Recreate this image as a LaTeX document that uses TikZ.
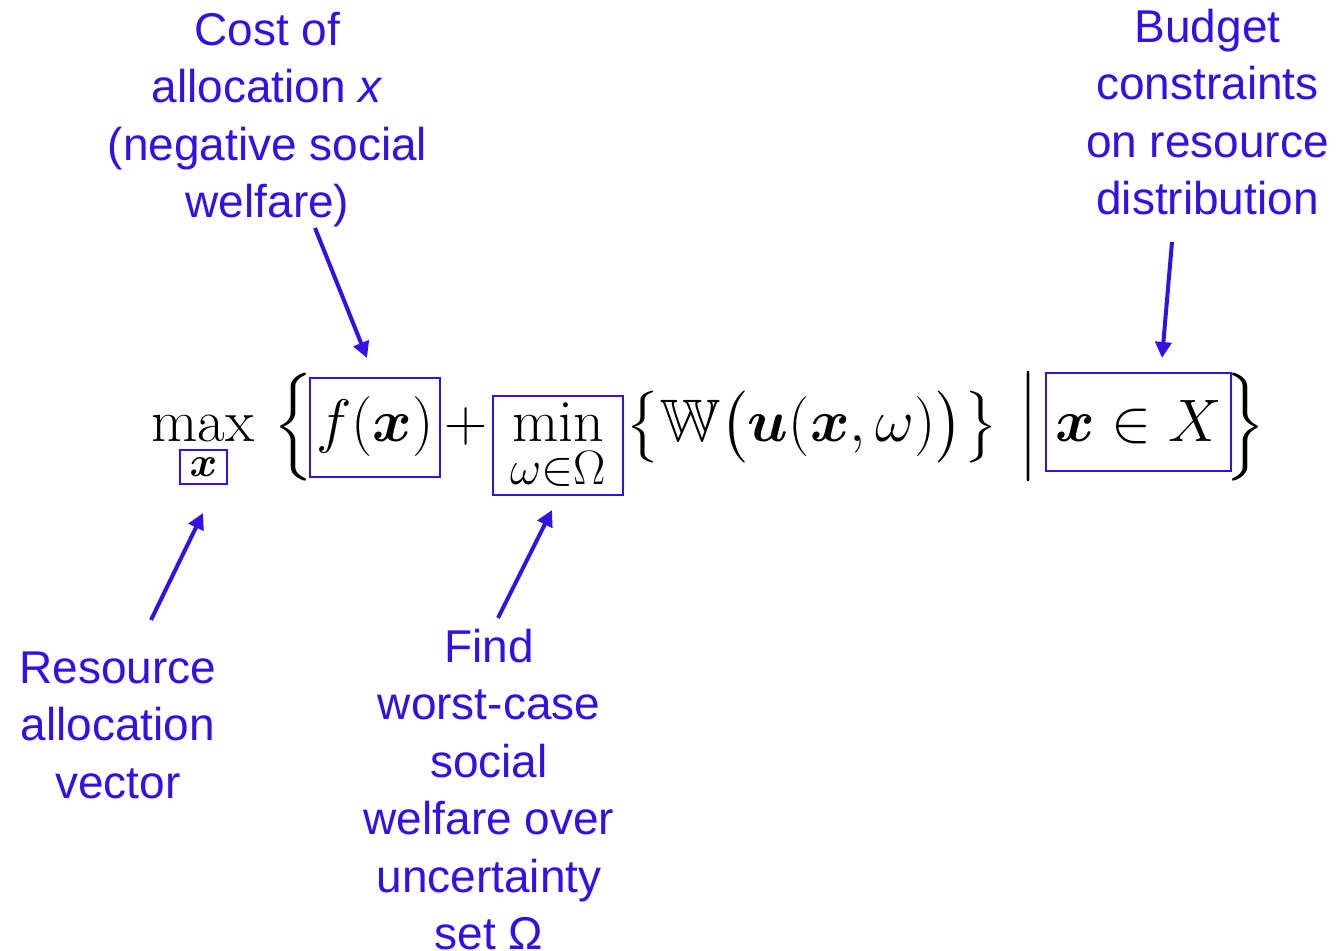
\documentclass[tikz,border=0pt]{standalone}
\usepackage{fix-cm}
\usepackage{amsmath,amssymb}
\DeclareFontFamily{U}{msb}{}
\DeclareFontShape{U}{msb}{m}{n}{<-> msbm10}{}
\usepackage{fontspec}
\newfontfamily\labelfont{Liberation Sans}
\usetikzlibrary{arrows.meta}
\definecolor{annot}{RGB}{51,17,230}

\begin{document}
\begin{tikzpicture}[x=0.5pt, y=-0.5pt,
  lbl/.style={anchor=north, align=center, inner sep=0pt, text=annot,
    font=\labelfont\fontsize{23}{28.75}\selectfont},
  pointer/.style={draw=annot, line width=2pt, -{Triangle[length=8pt,width=8pt]}},
  eq/.style={inner sep=0pt, anchor=base, font=\fontsize{30}{36}\selectfont},
  hl/.style={eq, draw=annot, line width=1.2pt}]
  \useasboundingbox (0,0) rectangle (1338,951);
  % the objective, piece by piece on one baseline (y=442)
  \node[eq] (maxop) at (203,442) {$\max$};
  \node[hl, anchor=center, minimum width=23.5pt, minimum height=17pt] (xsub) at (203.5,467) {$\scriptstyle\boldsymbol{x}$};
  \node[eq] (lbrace) at (293,442) {$\Big\{$};
  \node[hl, text height=32pt, text depth=17.5pt, minimum width=65pt] (fxbox) at (375,442) {$f(\boldsymbol{x})$};
  \node[eq] (plus) at (466.5,442) {$+$};
  \node[hl, text height=23pt, text depth=26.5pt, minimum width=65pt] (minbox) at (558,442) {$\min\limits_{\scalebox{1.15}{$\scriptstyle\omega\in\Omega$}}$};
  \node[eq, anchor=base west] (wterm) at (625,442) {$\bigl\{\mathbb{W}\bigl(\boldsymbol{u}(\boldsymbol{x},\omega)\bigr)\bigr\}$};
  \node[eq] (bar) at (1028,442) {$\Big|$};
  \node[hl, text height=34.5pt, text depth=14.5pt, minimum width=92.5pt] (setbox) at (1138.5,442) {$\boldsymbol{x}\in X$};
  \node[eq] (rbrace) at (1245,442) {$\Big\}$};
  % annotations
  \node[lbl] (costlbl) at (267.5,11.5) {Cost of\\allocation \textit{x}\\(negative social\\welfare)};
  \node[lbl] (budgetlbl) at (1207.5,8.5) {Budget\\constraints\\on resource\\distribution};
  \node[lbl] (veclbl) at (118,651) {Resource\\allocation\\vector};
  \node[lbl] (findlbl) at (489,628.5) {Find\\worst-case\\social\\welfare over\\uncertainty\\set Ω};
  % arrow ends
  \coordinate (costtail) at (315,228);
  \coordinate (costtip) at (367,358);
  \coordinate (budgettail) at (1172,242);
  \coordinate (budgettip) at (1162,358);
  \coordinate (vectail) at (151,620);
  \coordinate (vectip) at (203,513);
  \coordinate (findtail) at (498,618);
  \coordinate (findtip) at (552,510);
  \draw[pointer] (costtail) -- (costtip);
  \draw[pointer] (budgettail) -- (budgettip);
  \draw[pointer] (vectail) -- (vectip);
  \draw[pointer] (findtail) -- (findtip);
\end{tikzpicture}
\end{document}
